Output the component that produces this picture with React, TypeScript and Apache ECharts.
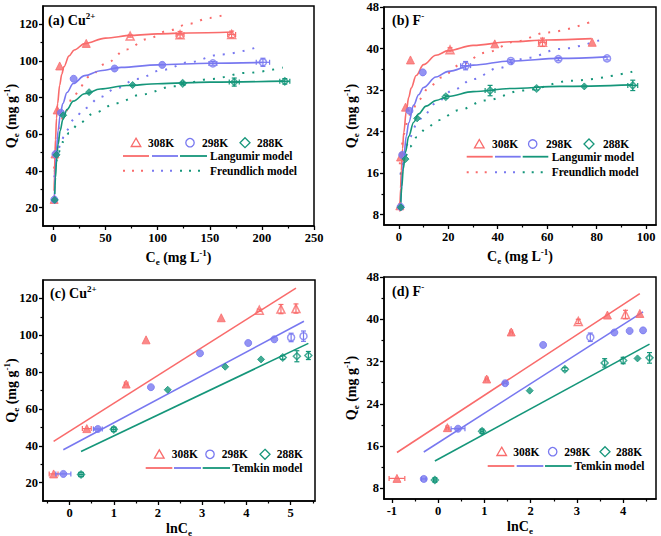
import React, { useEffect, useRef } from "react";
import * as echarts from "echarts";

// ---------- Panel (a): Cu2+ isotherm, Qe vs Ce ----------
const cuCe308 = [0.7, 1.5, 3.6, 6.0, 31.5, 73.6, 121.5, 171];
const cuQe308 = [24.5, 49.3, 73.3, 97.3, 109.6, 113.6, 114.3, 114.5];
const cuCeErr308 = [0, 0, 0, 0, 0, 0, 3.8, 3.8];
const cuQeErr308 = [0, 0, 0, 0, 0, 0.6, 1.8, 1.8];
const cuCe298 = [0.86, 1.9, 7.2, 19.4, 58.7, 104.4, 153, 201];
const cuQe298 = [24.4, 49.2, 71.8, 90.3, 95.9, 97.9, 98.7, 99.3];
const cuCeErr298 = [0, 0, 0, 0, 0, 0, 3.8, 6.4];
const cuQeErr298 = [0, 0, 0, 0, 0, 0, 1.0, 2.2];
const cuCe288 = [1.3, 3.0, 9.4, 34.2, 76, 124, 173.5, 222];
const cuQe288 = [24.2, 48.8, 70.4, 83.0, 86.9, 87.8, 88.5, 88.9];
const cuCeErr288 = [0, 0, 0, 0, 0, 0.8, 4.8, 4.8];
const cuQeErr288 = [0, 0, 0, 0, 0, 0.6, 2.2, 1.5];

const cuLangC308 = [0.7, 1, 1.5, 2, 3, 4, 6, 8, 10, 15, 20, 30, 50, 75, 100, 130, 172];
const cuLangQ308 = [29.2, 37.7, 48.8, 57.1, 68.9, 76.8, 86.8, 92.8, 96.8, 102.8, 106.0, 109.5, 112.5, 114.0, 114.8, 115.3, 115.8];
const cuLangC298 = [0.86, 1.3, 2, 3, 4.5, 6.5, 9, 13, 19, 30, 45, 65, 100, 150, 200];
const cuLangQ298 = [23.7, 32.0, 42.0, 52.1, 62.1, 70.4, 76.8, 82.8, 87.7, 92.0, 94.7, 96.5, 97.9, 98.8, 99.2];
const cuLangC288 = [1.3, 2, 3, 4.5, 6.5, 9, 13, 19, 30, 45, 70, 100, 150, 222];
const cuLangQ288 = [27.4, 36.5, 45.5, 54.5, 62.1, 68.0, 73.5, 78.1, 82.1, 84.7, 86.6, 87.6, 88.5, 89.0];

const cuFreuC308 = [0.7, 1.5, 3, 6, 10, 20, 35, 50, 70, 90, 110, 130, 150, 168];
const cuFreuQ308 = [41.3, 48.3, 55.5, 63.9, 71.0, 81.7, 91.6, 98.5, 106.3, 112.0, 116.5, 120.3, 123.5, 126.0];
const cuFreuC298 = [0.86, 2, 4, 7, 12, 20, 30, 45, 60, 80, 105, 130, 160, 196];
const cuFreuQ298 = [36.6, 43.3, 49.7, 55.5, 61.8, 68.4, 74.2, 80.4, 85.1, 90.2, 95.2, 99.3, 103.5, 107.6];
const cuFreuC288 = [1.3, 2.7, 5, 9.3, 15, 25, 40, 60, 85, 115, 150, 185, 220];
const cuFreuQ288 = [39.7, 45.2, 50.3, 55.9, 60.7, 66.3, 71.9, 77.0, 81.8, 86.2, 90.1, 93.5, 96.4];

// ---------- Panel (b): F- isotherm ----------
const fCe308 = [0.4, 0.7, 2.7, 4.7, 20.7, 38.8, 58.1, 78.2];
const fQe308 = [9.7, 19.1, 28.7, 37.8, 39.75, 40.9, 41.2, 41.2];
const fCeErr308 = [0, 0, 0, 0, 0, 0, 1.6, 0];
const fQeErr308 = [0, 0, 0, 0, 0.4, 0, 0.8, 0];
const fCe298 = [0.7, 1.35, 4.3, 9.7, 27, 45.3, 64.5, 84.2];
const fQe298 = [9.5, 19.5, 28.0, 35.4, 36.7, 37.6, 37.95, 38.1];
const fCeErr298 = [0, 0, 0, 0, 2, 0, 0, 0];
const fQeErr298 = [0, 0, 0, 0, 0.8, 0.3, 0.3, 0.3];
const fCe288 = [0.8, 2.7, 7.4, 19, 36.9, 55.7, 75, 94.6];
const fQe288 = [9.4, 18.7, 26.55, 30.7, 31.9, 32.3, 32.7, 32.9];
const fCeErr288 = [0, 0, 0, 0, 2, 0, 0, 2];
const fQeErr288 = [0, 0, 0, 0.3, 1.0, 0.3, 0, 1.0];

const fLangC308 = [0.4, 0.7, 1, 1.5, 2, 3, 4, 5, 7, 10, 15, 20, 30, 45, 60, 78];
const fLangQ308 = [8.6, 13.1, 16.5, 20.7, 23.8, 27.9, 30.6, 32.4, 34.8, 36.9, 38.7, 39.6, 40.6, 41.3, 41.65, 41.9];
const fLangC298 = [0.7, 1, 1.5, 2, 3, 4, 6, 8, 10, 15, 20, 30, 45, 65, 84];
const fLangQ298 = [9.8, 12.6, 16.3, 19.1, 23.1, 25.7, 29.1, 31.1, 32.5, 34.5, 35.6, 36.8, 37.6, 38.1, 38.4];
const fLangC288 = [0.8, 1.2, 1.8, 2.7, 4, 6, 8, 11, 15, 20, 30, 45, 65, 94.6];
const fLangQ288 = [10.3, 13.4, 16.8, 20.1, 23.1, 25.8, 27.4, 28.9, 30.0, 30.8, 31.7, 32.3, 32.7, 33.0];

const fFreuC308 = [0.4, 1, 2, 3.5, 5, 8, 12, 17, 25, 35, 47, 60, 78];
const fFreuQ308 = [17.7, 20.8, 23.5, 26.0, 27.7, 30.1, 32.4, 34.4, 36.9, 39.2, 41.3, 43.1, 45.2];
const fFreuC298 = [0.7, 1.35, 2.5, 4.3, 7, 10, 15, 22, 30, 40, 52, 65, 83];
const fFreuQ298 = [15.7, 18.0, 20.4, 22.8, 25.2, 27.1, 29.5, 32.0, 34.1, 36.2, 38.2, 39.9, 41.9];
const fFreuC288 = [0.8, 1.5, 2.7, 4.5, 7.4, 11, 16, 24, 35, 50, 70, 94.6];
const fFreuQ288 = [15.7, 17.5, 19.3, 21.1, 23.0, 24.6, 26.2, 28.1, 30.0, 31.9, 33.8, 35.55];

// ---------- Panel (c): Cu2+ Temkin, Qe vs lnCe ----------
const cuLn308 = [-0.36, 0.39, 1.28, 1.73, 3.43, 4.29, 4.78, 5.12];
const cuTq308 = [24.7, 49.3, 73.5, 97.5, 109.5, 113.6, 114.2, 114.5];
const cuLnErr308 = [0.1, 0.1, 0.04, 0, 0, 0, 0, 0];
const cuTqErr308 = [0, 0, 0, 0, 0, 0.6, 2.5, 2.5];
const cuLn298 = [-0.14, 0.64, 1.84, 2.95, 4.04, 4.63, 5.01, 5.29];
const cuTq298 = [24.7, 49.1, 71.8, 90.2, 95.8, 97.8, 98.8, 99.5];
const cuLnErr298 = [0.17, 0.1, 0, 0, 0, 0, 0, 0];
const cuTqErr298 = [0, 0, 0, 0, 0, 0, 2.3, 2.8];
const cuLn288 = [0.26, 1.0, 2.22, 3.52, 4.33, 4.82, 5.14, 5.4];
const cuTq288 = [24.4, 48.9, 70.4, 82.9, 86.9, 87.9, 88.6, 89.0];
const cuLnErr288 = [0.05, 0.05, 0, 0, 0, 0, 0, 0];
const cuTqErr288 = [1.2, 1.2, 0, 0, 0, 1.0, 3.0, 2.2];
const cuTemkinX308 = [-0.36, 5.12];
const cuTemkinY308 = [42.4, 125.6];
const cuTemkinX298 = [-0.14, 5.3];
const cuTemkinY298 = [37.8, 107.6];
const cuTemkinX288 = [0.26, 5.4];
const cuTemkinY288 = [36.9, 95.6];

// ---------- Panel (d): F- Temkin ----------
const fLn308 = [-0.89, 0.2, 1.05, 1.58, 3.03, 3.66, 4.05, 4.36];
const fTq308 = [9.9, 19.5, 28.7, 37.6, 39.6, 40.8, 40.9, 41.1];
const fLnErr308 = [0.17, 0.03, 0.03, 0.03, 0, 0, 0, 0];
const fTqErr308 = [0, 0, 0, 0, 0.4, 0, 0.8, 0];
const fLn298 = [-0.31, 0.43, 1.45, 2.27, 3.29, 3.81, 4.14, 4.43];
const fTq298 = [9.8, 19.3, 27.9, 35.15, 36.6, 37.5, 37.8, 37.9];
const fLnErr298 = [0.05, 0.15, 0.04, 0, 0, 0, 0, 0];
const fTqErr298 = [0, 0, 0, 0, 0.8, 0, 0, 0];
const fLn288 = [-0.07, 0.95, 1.98, 2.74, 3.6, 4.0, 4.31, 4.57];
const fTq288 = [9.6, 18.8, 26.5, 30.55, 31.75, 32.2, 32.6, 32.7];
const fLnErr288 = [0.03, 0.03, 0, 0, 0, 0, 0, 0];
const fTqErr288 = [0.4, 0.4, 0, 0.3, 0.8, 0.6, 0, 1.0];
const fTemkinX308 = [-0.89, 4.36];
const fTemkinY308 = [14.8, 44.85];
const fTemkinX298 = [-0.31, 4.43];
const fTemkinY298 = [14.9, 41.4];
const fTemkinX288 = [-0.07, 4.57];
const fTemkinY288 = [13.2, 35.3];

// ---------- Tick values ----------
const cuQTicks = [20, 40, 60, 80, 100, 120];
const cuQMinor = [30, 50, 70, 90, 110];
const fQTicks = [8, 16, 24, 32, 40, 48];
const fQMinor = [12, 20, 28, 36, 44];
const cuCeTicks = [0, 50, 100, 150, 200, 250];
const cuCeMinor = [25, 75, 125, 175, 225];
const fCeTicks = [0, 20, 40, 60, 80, 100];
const fCeMinor = [10, 30, 50, 70, 90];
const cuLnTicks = [0, 1, 2, 3, 4, 5];
const cuLnMinor = [-0.5, 0.5, 1.5, 2.5, 3.5, 4.5, 5.5];
const fLnTicks = [-1, 0, 1, 2, 3, 4];
const fLnMinor = [-0.5, 0.5, 1.5, 2.5, 3.5, 4.5];

const tempLabels = ["308K", "298K", "288K"];

const RED = "#F96B6B";
const BLUE = "#7878F0";
const GREEN = "#15967A";
const COLORS = [RED, BLUE, GREEN];
const SYMBOLS = ["triangle", "circle", "diamond"];
const FONT = "'Liberation Serif', 'Times New Roman', serif";

const zip = (xs: number[], ys: number[]) => xs.map((x, i) => [x, ys[i]]);

const richStyles = {
  b: { fontSize: 14, fontWeight: "bold", fontFamily: FONT, color: "#000", lineHeight: 18 },
  sub: { fontSize: 9, fontWeight: "bold", fontFamily: FONT, color: "#000", lineHeight: 9, verticalAlign: "bottom" },
  sup: { fontSize: 9, fontWeight: "bold", fontFamily: FONT, color: "#000", lineHeight: 9, verticalAlign: "top" },
};

function axes(
  dim: "x" | "y",
  gi: number,
  min: number,
  max: number,
  major: number[],
  minor: number[],
  name: string,
  nameGap: number
) {
  const pos = dim === "x" ? "bottom" : "left";
  const main: any = {
    type: "value",
    gridIndex: gi,
    position: pos,
    min,
    max,
    name,
    nameLocation: "middle",
    nameGap,
    nameMoveOverlap: false,
    nameTextStyle: { rich: richStyles },
    axisLine: { show: true, onZero: false, lineStyle: { color: "#000", width: 1.5 } },
    axisTick: { show: true, customValues: major, length: 4, lineStyle: { color: "#000", width: 1.3 } },
    axisLabel: {
      show: true,
      customValues: major,
      color: "#000",
      fontFamily: FONT,
      fontWeight: "bold",
      fontSize: 12.5,
      margin: 5,
    },
    splitLine: { show: false },
  };
  const minorAx: any = {
    type: "value",
    gridIndex: gi,
    position: pos,
    min,
    max,
    axisLine: { show: false, onZero: false },
    axisTick: { show: true, customValues: minor, length: 2.5, lineStyle: { color: "#000", width: 1.2 } },
    axisLabel: { show: false },
    splitLine: { show: false },
  };
  return [main, minorAx];
}

function scatter(gi: number, k: number, xs: number[], ys: number[], ey: number[]) {
  const color = COLORS[k];
  return {
    type: "scatter",
    xAxisIndex: gi * 2,
    yAxisIndex: gi * 2,
    symbol: SYMBOLS[k],
    symbolSize: k === 0 ? 8 : 7,
    z: 4,
    data: xs.map((x, i) => ({
      value: [x, ys[i]],
      itemStyle:
        ey[i] > 0
          ? { color: "rgba(255,255,255,0)", borderColor: color, borderWidth: 1.5 }
          : { color, borderColor: color, borderWidth: 1 },
    })),
  };
}

function errorBars(gi: number, k: number, xs: number[], ys: number[], ex: number[], ey: number[]) {
  const color = COLORS[k];
  const data = xs
    .map((x, i) => [x, ys[i], ex[i], ey[i]])
    .filter((d) => d[2] > 0 || d[3] > 0);
  return {
    type: "custom",
    xAxisIndex: gi * 2,
    yAxisIndex: gi * 2,
    z: 5,
    encode: { x: 0, y: 1 },
    data,
    renderItem: (_p: any, api: any) => {
      const x = api.value(0);
      const y = api.value(1);
      const dx = api.value(2);
      const dy = api.value(3);
      const style = { stroke: color, lineWidth: 1.2, fill: null };
      const cap = 2.5;
      const children: any[] = [];
      if (dx > 0) {
        const l = api.coord([x - dx, y]);
        const r = api.coord([x + dx, y]);
        children.push({ type: "line", shape: { x1: l[0], y1: l[1], x2: r[0], y2: r[1] }, style });
        children.push({ type: "line", shape: { x1: l[0], y1: l[1] - cap, x2: l[0], y2: l[1] + cap }, style });
        children.push({ type: "line", shape: { x1: r[0], y1: r[1] - cap, x2: r[0], y2: r[1] + cap }, style });
      }
      if (dy > 0) {
        const t = api.coord([x, y + dy]);
        const b = api.coord([x, y - dy]);
        children.push({ type: "line", shape: { x1: t[0], y1: t[1], x2: b[0], y2: b[1] }, style });
        children.push({ type: "line", shape: { x1: t[0] - cap, y1: t[1], x2: t[0] + cap, y2: t[1] }, style });
        children.push({ type: "line", shape: { x1: b[0] - cap, y1: b[1], x2: b[0] + cap, y2: b[1] }, style });
      }
      return { type: "group", children };
    },
  };
}

function curve(gi: number, k: number, xs: number[], ys: number[], dotted: boolean) {
  return {
    type: "line",
    xAxisIndex: gi * 2,
    yAxisIndex: gi * 2,
    showSymbol: false,
    symbol: "none",
    smooth: dotted || xs.length > 2 ? 0.35 : false,
    smoothMonotone: "x",
    z: 2,
    lineStyle: dotted
      ? { color: COLORS[k], width: 2, type: [2, 8] }
      : { color: COLORS[k], width: 1.6 },
    data: zip(xs, ys),
  };
}

function legendMarker(k: number, cx: number, cy: number) {
  const color = COLORS[k];
  const style = { fill: "none", stroke: color, lineWidth: 1.3 };
  if (k === 0)
    return { type: "polygon", shape: { points: [[cx, cy - 4.5], [cx + 4.8, cy + 3.8], [cx - 4.8, cy + 3.8]] }, style };
  if (k === 1) return { type: "circle", shape: { cx, cy, r: 4.2 }, style };
  return { type: "polygon", shape: { points: [[cx, cy - 5], [cx + 5, cy], [cx, cy + 5], [cx - 5, cy]] }, style };
}

function legendText(x: number, y: number, text: string) {
  return {
    type: "text",
    x,
    y,
    style: { text, fontFamily: FONT, fontWeight: "bold", fontSize: 11.5, fill: "#000", align: "left", verticalAlign: "middle" },
  };
}

function legendBlock(
  markerY: number,
  markerXs: number[],
  labelXs: number[],
  rows: { y: number; dotted: boolean; text: string }[],
  segs: number[][],
  textX: number
) {
  const els: any[] = [];
  for (let k = 0; k < 3; k++) {
    els.push(legendMarker(k, markerXs[k], markerY));
    els.push(legendText(labelXs[k], markerY, tempLabels[k]));
  }
  rows.forEach((row) => {
    for (let k = 0; k < 3; k++) {
      els.push({
        type: "line",
        shape: { x1: segs[k][0], y1: row.y, x2: segs[k][1], y2: row.y },
        style: row.dotted
          ? { stroke: COLORS[k], lineWidth: 2, lineDash: [2, 7] }
          : { stroke: COLORS[k], lineWidth: 1.8 },
      });
    }
    els.push(legendText(textX, row.y, row.text));
  });
  return els;
}

function panelTitle(x: number, y: number, main: string, sup: string) {
  return {
    type: "text",
    x,
    y,
    style: {
      text: `{b|${main}}{sup|${sup}}`,
      rich: richStyles,
      align: "left",
      verticalAlign: "middle",
    },
  };
}

export default function App() {
  const ref = useRef<HTMLDivElement>(null);

  useEffect(() => {
    if (!ref.current) return;
    const chart = echarts.init(ref.current, undefined, { renderer: "svg" });

    const ceName = "{b|C}{sub|e}{b| (mg L}{sup|-1}{b|)}";
    const qName = "{b|Q}{sub|e}{b| (mg g}{sup|-1}{b|)}";
    const lnName = "{b|lnC}{sub|e}";

    const grids = [
      { left: 43, top: 6, width: 271, height: 220 },
      { left: 384, top: 7, width: 272, height: 218 },
      { left: 43, top: 280, width: 272, height: 221 },
      { left: 384, top: 277, width: 272, height: 222 },
    ].map((g) => ({
      ...g,
      show: true,
      borderColor: "#000",
      borderWidth: 1.5,
      backgroundColor: "transparent",
      containLabel: false,
      outerBoundsMode: "none",
    }));

    const xAxis = [
      ...axes("x", 0, -10, 250, cuCeTicks, cuCeMinor, ceName, 22),
      ...axes("x", 1, -6, 104, fCeTicks, fCeMinor, ceName, 22),
      ...axes("x", 2, -0.6, 5.55, cuLnTicks, cuLnMinor, lnName, 18),
      ...axes("x", 3, -1.17, 4.71, fLnTicks, fLnMinor, lnName, 18),
    ];
    const yAxis = [
      ...axes("y", 0, 10, 130, cuQTicks, cuQMinor, qName, 23),
      ...axes("y", 1, 6, 48, fQTicks, fQMinor, qName, 24),
      ...axes("y", 2, 10, 130, cuQTicks, cuQMinor, qName, 23),
      ...axes("y", 3, 6, 48, fQTicks, fQMinor, qName, 24),
    ];

    const series: any[] = [
      // (a)
      curve(0, 0, cuFreuC308, cuFreuQ308, true),
      curve(0, 1, cuFreuC298, cuFreuQ298, true),
      curve(0, 2, cuFreuC288, cuFreuQ288, true),
      curve(0, 0, cuLangC308, cuLangQ308, false),
      curve(0, 1, cuLangC298, cuLangQ298, false),
      curve(0, 2, cuLangC288, cuLangQ288, false),
      scatter(0, 0, cuCe308, cuQe308, cuQeErr308),
      scatter(0, 1, cuCe298, cuQe298, cuQeErr298),
      scatter(0, 2, cuCe288, cuQe288, cuQeErr288),
      errorBars(0, 0, cuCe308, cuQe308, cuCeErr308, cuQeErr308),
      errorBars(0, 1, cuCe298, cuQe298, cuCeErr298, cuQeErr298),
      errorBars(0, 2, cuCe288, cuQe288, cuCeErr288, cuQeErr288),
      // (b)
      curve(1, 0, fFreuC308, fFreuQ308, true),
      curve(1, 1, fFreuC298, fFreuQ298, true),
      curve(1, 2, fFreuC288, fFreuQ288, true),
      curve(1, 0, fLangC308, fLangQ308, false),
      curve(1, 1, fLangC298, fLangQ298, false),
      curve(1, 2, fLangC288, fLangQ288, false),
      scatter(1, 0, fCe308, fQe308, fQeErr308),
      scatter(1, 1, fCe298, fQe298, fQeErr298),
      scatter(1, 2, fCe288, fQe288, fQeErr288),
      errorBars(1, 0, fCe308, fQe308, fCeErr308, fQeErr308),
      errorBars(1, 1, fCe298, fQe298, fCeErr298, fQeErr298),
      errorBars(1, 2, fCe288, fQe288, fCeErr288, fQeErr288),
      // (c)
      curve(2, 0, cuTemkinX308, cuTemkinY308, false),
      curve(2, 1, cuTemkinX298, cuTemkinY298, false),
      curve(2, 2, cuTemkinX288, cuTemkinY288, false),
      scatter(2, 0, cuLn308, cuTq308, cuTqErr308),
      scatter(2, 1, cuLn298, cuTq298, cuTqErr298),
      scatter(2, 2, cuLn288, cuTq288, cuTqErr288),
      errorBars(2, 0, cuLn308, cuTq308, cuLnErr308, cuTqErr308),
      errorBars(2, 1, cuLn298, cuTq298, cuLnErr298, cuTqErr298),
      errorBars(2, 2, cuLn288, cuTq288, cuLnErr288, cuTqErr288),
      // (d)
      curve(3, 0, fTemkinX308, fTemkinY308, false),
      curve(3, 1, fTemkinX298, fTemkinY298, false),
      curve(3, 2, fTemkinX288, fTemkinY288, false),
      scatter(3, 0, fLn308, fTq308, fTqErr308),
      scatter(3, 1, fLn298, fTq298, fTqErr298),
      scatter(3, 2, fLn288, fTq288, fTqErr288),
      errorBars(3, 0, fLn308, fTq308, fLnErr308, fTqErr308),
      errorBars(3, 1, fLn298, fTq298, fLnErr298, fTqErr298),
      errorBars(3, 2, fLn288, fTq288, fLnErr288, fTqErr288),
    ];

    const graphic: any[] = [
      panelTitle(48, 20, "(a) Cu", "2+"),
      panelTitle(392, 20, "(b) F", "-"),
      panelTitle(50, 293, "(c) Cu", "2+"),
      panelTitle(392, 291, "(d) F", "-"),
      ...legendBlock(
        142.7,
        [136, 190, 245],
        [148, 202, 257],
        [
          { y: 156, dotted: false, text: "Langumir model" },
          { y: 170.7, dotted: true, text: "Freundlich model" },
        ],
        [[123, 149], [152, 178], [180, 207]],
        210
      ),
      ...legendBlock(
        144,
        [479.3, 532.7, 589],
        [492, 546, 603],
        [
          { y: 156.7, dotted: false, text: "Langumir model" },
          { y: 172.3, dotted: true, text: "Freundlich model" },
        ],
        [[466.7, 492.7], [495, 520.7], [522.7, 548.3]],
        551.7
      ),
      ...legendBlock(
        454.3,
        [159.3, 210, 265],
        [171.7, 221.7, 276.7],
        [{ y: 468, dotted: false, text: "Temkin model" }],
        [[145.7, 172.3], [174, 201], [202.7, 230]],
        232.3
      ),
      ...legendBlock(
        451.7,
        [501.7, 552.7, 605],
        [513.3, 564.3, 616],
        [{ y: 466, dotted: false, text: "Temkin model" }],
        [[487.7, 514.3], [516.7, 543.3], [545, 571.7]],
        574.3
      ),
    ];

    chart.setOption({
      animation: false,
      backgroundColor: "#fff",
      grid: grids,
      xAxis,
      yAxis,
      series,
      graphic,
    });

    return () => chart.dispose();
  }, []);

  return (
    <div
      ref={ref}
      style={{ position: "fixed", left: 0, top: 0, width: 661, height: 536 }}
    />
  );
}
